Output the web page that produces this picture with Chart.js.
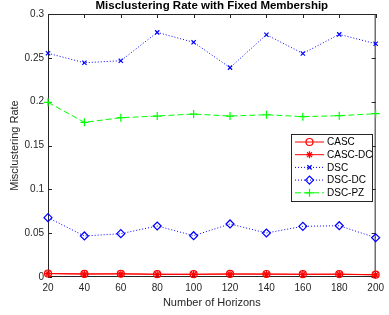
<!DOCTYPE html>
<html>
<head>
<meta charset="utf-8">
<script src="https://cdn.jsdelivr.net/npm/chart.js@4/dist/chart.umd.min.js"></script>
<style>
  html, body { margin: 0; padding: 0; background: #fff; }
  #wrap { width: 389px; height: 315px; position: relative; }
</style>
</head>
<body>
<div id="wrap"><canvas id="chart"></canvas></div>
<script>
// ---------- DATI ----------
const horizons = [20, 40, 60, 80, 100, 120, 140, 160, 180, 200];
const casc   = [0.004, 0.0035, 0.0037, 0.0032, 0.0032, 0.0035, 0.0034, 0.0032, 0.0033, 0.0026];
const cascDc = [0.0038, 0.0033, 0.0035, 0.003, 0.003, 0.0033, 0.0032, 0.003, 0.0031, 0.0024];
const dsc    = [0.2552, 0.2444, 0.2467, 0.279, 0.2677, 0.2388, 0.2764, 0.255, 0.2768, 0.2661];
const dscDc  = [0.0677, 0.0468, 0.0494, 0.0582, 0.0471, 0.0605, 0.0502, 0.0578, 0.0585, 0.0448];
const dscPz  = [0.1992, 0.1764, 0.1817, 0.1836, 0.1859, 0.1836, 0.1851, 0.1829, 0.184, 0.1863];
const yTicks = [0, 0.05, 0.1, 0.15, 0.2, 0.25, 0.3];
const titolo = 'Misclustering Rate with Fixed Membership';

const AXIS = '#262626';
const FONT = 'Liberation Sans, Arial, Helvetica, sans-serif';
const NONE = 'rgba(0,0,0,0)';

function serie(label, data, color, style, dash, radius) {
  return {
    label, data,
    borderColor: color,
    backgroundColor: NONE,
    borderWidth: 1,
    borderDash: dash,
    pointStyle: style,
    pointRadius: radius,
    pointBorderColor: color,
    pointBackgroundColor: NONE,
    pointBorderWidth: 1.2,
    tension: 0,
    fill: false,
    clip: false,
  };
}

const datasets = [
  serie('CASC', casc, '#ff0000', 'circle', [], 3.5),
  serie('CASC-DC', cascDc, '#ff0000', 'star', [], 3.5),
  serie('DSC', dsc, '#0000ff', 'crossRot', [1, 2], 3),
  serie('DSC-DC', dscDc, '#0000ff', 'rectRot', [1, 2], 4),
  serie('DSC-PZ', dscPz, '#00ff00', 'cross', [6, 3], 4),
];

// titolo centrato sull'area del grafico (come MATLAB)
const titlePlugin = {
  id: 'axTitle',
  afterDraw(chart) {
    const { ctx, chartArea: a } = chart;
    ctx.save();
    ctx.fillStyle = '#000';
    ctx.font = 'bold 11.5px ' + FONT;
    ctx.textAlign = 'center';
    ctx.textBaseline = 'middle';
    ctx.fillText(titolo, (a.left + a.right) / 2, 6);
    ctx.restore();
  }
};

// box stile MATLAB con tacche interne su tutti i lati
const boxPlugin = {
  id: 'box',
  beforeDatasetsDraw(chart) {
    const { ctx, chartArea: a, scales } = chart;
    ctx.save();
    ctx.strokeStyle = AXIS;
    ctx.lineWidth = 1;
    ctx.strokeRect(a.left + 0.5, a.top + 0.5, a.right - a.left - 1, a.bottom - a.top - 1);
    ctx.beginPath();
    const tl = 4;
    horizons.forEach((h, i) => {
      const x = Math.round(scales.x.getPixelForValue(i)) + 0.5;
      ctx.moveTo(x, a.bottom); ctx.lineTo(x, a.bottom - tl);
      ctx.moveTo(x, a.top); ctx.lineTo(x, a.top + tl);
    });
    yTicks.forEach(v => {
      const y = Math.round(scales.y.getPixelForValue(v)) + 0.5;
      ctx.moveTo(a.left, y); ctx.lineTo(a.left + tl, y);
      ctx.moveTo(a.right, y); ctx.lineTo(a.right - tl, y);
    });
    ctx.stroke();
    ctx.restore();
  }
};

// legenda dentro l'area del grafico
const legendPlugin = {
  id: 'boxLegend',
  afterDraw(chart) {
    const { ctx } = chart;
    const x0 = 291, y0 = 134, w = 81, h = 67, rowH = 12.7;
    ctx.save();
    ctx.fillStyle = '#fff';
    ctx.fillRect(x0, y0, w, h);
    ctx.strokeStyle = AXIS;
    ctx.lineWidth = 1;
    ctx.strokeRect(x0 + 0.5, y0 + 0.5, w, h);
    chart.data.datasets.forEach((ds, i) => {
      const y = y0 + 8 + i * rowH;
      ctx.strokeStyle = ds.borderColor;
      ctx.lineWidth = 1;
      ctx.setLineDash(ds.borderDash);
      ctx.beginPath();
      ctx.moveTo(295, y); ctx.lineTo(324, y);
      ctx.stroke();
      ctx.setLineDash([]);
      ctx.fillStyle = NONE;
      ctx.lineWidth = ds.pointBorderWidth;
      Chart.helpers.drawPoint(ctx, {
        pointStyle: ds.pointStyle, radius: ds.pointRadius, rotation: 0,
        borderWidth: ds.pointBorderWidth
      }, 309.5, y);
      ctx.fillStyle = '#000';
      ctx.font = '10px ' + FONT;
      ctx.textBaseline = 'middle';
      ctx.fillText(ds.label, 327, y + 0.5);
    });
    ctx.restore();
  }
};

new Chart(document.getElementById('chart'), {
  type: 'line',
  data: { labels: horizons, datasets },
  options: {
    responsive: true,
    maintainAspectRatio: false,
    animation: false,
    layout: { padding: { left: 0, right: 7, top: 14, bottom: 0 } },
    plugins: {
      legend: { display: false },
      tooltip: { enabled: false },
      title: { display: false },
    },
    scales: {
      x: {
        type: 'category',
        offset: false,
        grid: { display: false, drawTicks: false },
        border: { display: false },
        ticks: { color: AXIS, font: { family: FONT, size: 10 }, padding: 5, maxRotation: 0, autoSkip: false },
        title: { display: true, text: 'Number of Horizons', color: AXIS, font: { family: FONT, size: 11 }, padding: { top: 0, bottom: 5 } },
        afterFit(s) { s.height = 38; },
      },
      y: {
        min: 0, max: 0.3,
        grid: { display: false, drawTicks: false },
        border: { display: false },
        afterBuildTicks(s) { s.ticks = yTicks.map(v => ({ value: v })); },
        ticks: { color: AXIS, font: { family: FONT, size: 10 }, padding: 4, callback: v => +v.toFixed(2) },
        title: { display: true, text: 'Misclustering Rate', color: AXIS, font: { family: FONT, size: 11 }, padding: { top: 8, bottom: 0 } },
        afterFit(s) { s.width = 48; },
      },
    },
  },
  plugins: [boxPlugin, legendPlugin, titlePlugin],
});
</script>
</body>
</html>
